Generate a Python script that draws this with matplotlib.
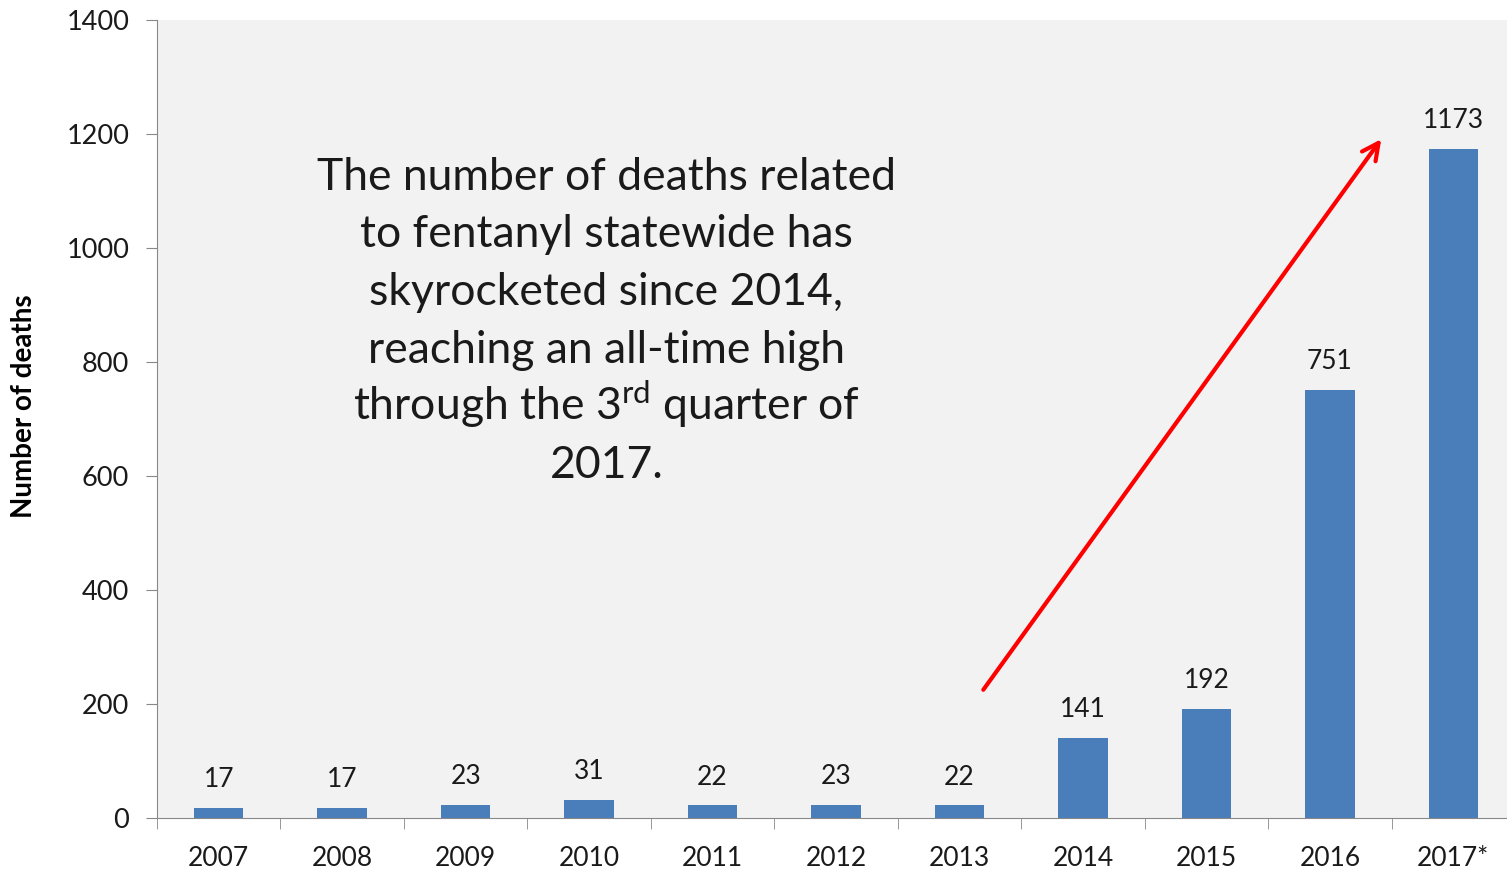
import numpy as np
import matplotlib.pyplot as plt
from matplotlib.ticker import FixedLocator

plt.rcParams['font.family'] = ['Lato', 'DejaVu Sans']
plt.rcParams['mathtext.fontset'] = 'custom'
plt.rcParams['mathtext.rm'] = 'Lato'

years = ['2007', '2008', '2009', '2010', '2011', '2012', '2013',
         '2014', '2015', '2016', '2017*']
deaths = [17, 17, 23, 31, 22, 23, 22, 141, 192, 751, 1173]
yticks = [0, 200, 400, 600, 800, 1000, 1200, 1400]

note_lines = ['The number of deaths related',
              'to fentanyl statewide has',
              'skyrocketed since 2014,',
              'reaching an all-time high',
              'through the 3$^{\\mathrm{rd}}$ quarter of',
              '2017.']
note_x, note_top, note_step = 3.14, 1102, 101
arrow_start = (6.18, 221)
arrow_end = (9.43, 1195)

fig = plt.figure(figsize=(15.07, 8.71), dpi=100)
ax = fig.add_axes([157 / 1507, (871 - 818) / 871, 1358 / 1507, 798 / 871])
ax.set_facecolor('#f2f2f2')

x = np.arange(len(years))
ax.bar(x, deaths, width=0.4, color='#4a7ebb')
for xi, v in zip(x, deaths):
    ax.text(xi, v + 28, str(v), ha='center', va='bottom', fontsize=19, color='#1a1a1a')

ax.set_xlim(-0.5, len(years) - 0.5)
ax.set_ylim(0, 1400)
ax.set_yticks(yticks)
ax.set_xticks(x)
ax.set_xticklabels(years)
ax.xaxis.set_minor_locator(FixedLocator(np.arange(-0.5, len(years), 1)))
ax.tick_params(axis='x', which='major', length=0, pad=20, labelsize=19, labelcolor='#1a1a1a')
ax.tick_params(axis='x', which='minor', length=8, color='#888888', direction='out')
ax.tick_params(axis='y', length=8, color='#888888', pad=12, labelsize=19.5, labelcolor='#1a1a1a')

for s in ['top', 'right']:
    ax.spines[s].set_visible(False)
ax.spines['left'].set_color('#888888')
ax.spines['bottom'].set_color('#888888')

ax.set_ylabel('Number of deaths', fontsize=20, fontweight='bold')
ax.yaxis.set_label_coords(-0.0885, 0.516)

for i, line in enumerate(note_lines):
    ax.text(note_x, note_top - i * note_step, line, ha='center', va='baseline',
            fontsize=32, color='#1a1a1a')

ax.annotate('', xy=arrow_end, xytext=arrow_start,
            arrowprops=dict(arrowstyle='->', color='red', lw=3, mutation_scale=30))

fig.savefig('out.png', dpi=100, facecolor='white')
